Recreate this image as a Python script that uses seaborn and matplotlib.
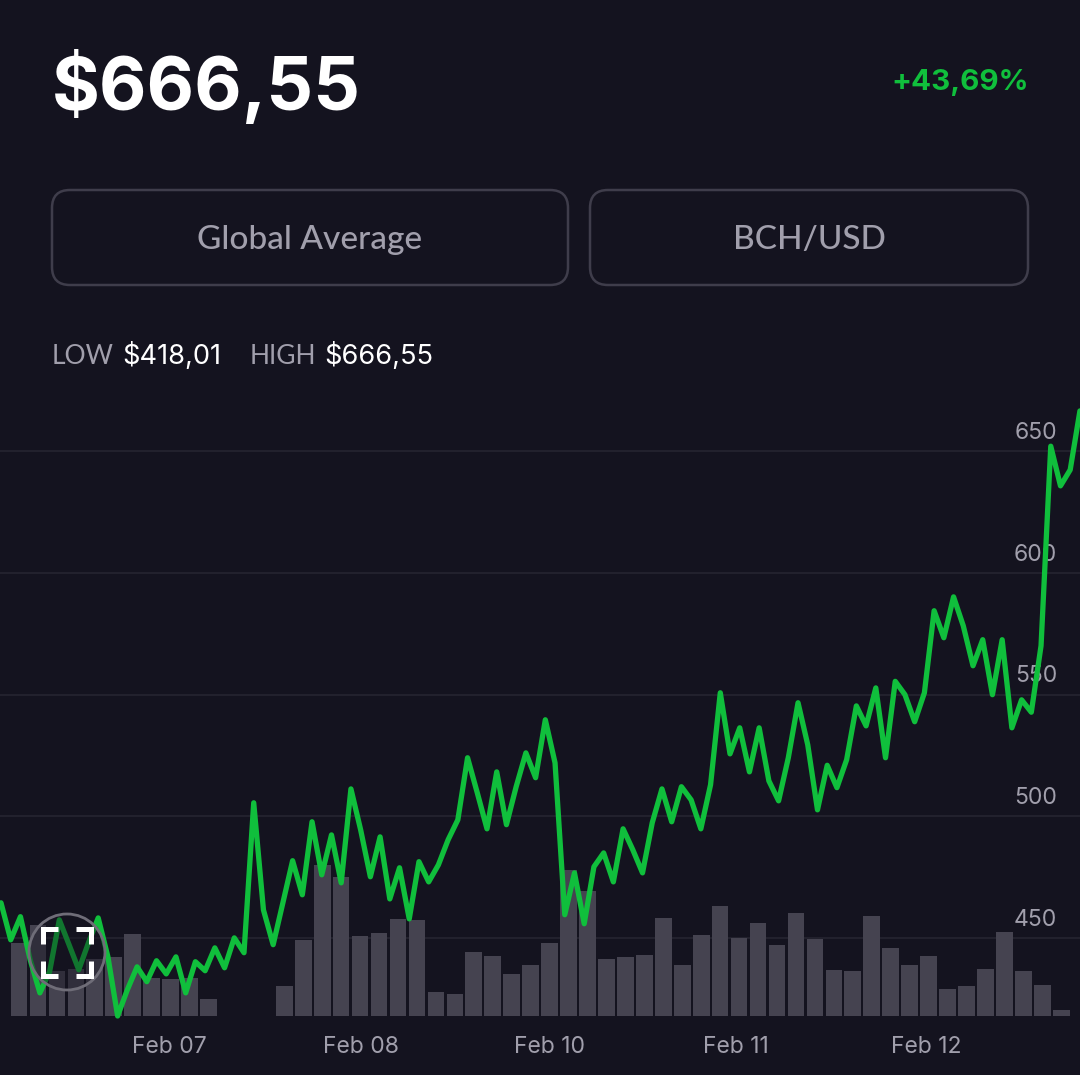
import matplotlib
matplotlib.use("Agg")
import numpy as np
import matplotlib.pyplot as plt
import seaborn as sns
from matplotlib.patches import FancyBboxPatch, Circle
from matplotlib.transforms import ScaledTranslation

# ---- data ----
price = [464.5, 449.3, 458.8, 441.1, 427.5, 436.2, 457.5, 447.3, 437.0, 448.1, 458.3, 442.3,
         418.0, 428.8, 438.2, 432.1, 440.7, 435.3, 442.3, 427.5, 440.3, 436.6, 446.0, 437.8,
         450.1, 444.0, 505.6, 461.6, 447.3, 464.5, 481.8, 467.8, 497.8, 476.0, 492.4, 472.7,
         511.3, 494.5, 475.2, 491.6, 466.1, 478.9, 457.9, 481.4, 473.1, 480.1, 490.4, 498.6,
         524.1, 509.7, 494.9, 518.3, 496.6, 512.2, 526.1, 515.9, 539.7, 522.0, 459.6, 476.8,
         455.9, 479.3, 485.0, 473.1, 494.9, 486.3, 476.8, 497.4, 511.3, 497.8, 512.2, 506.8,
         494.9, 513.0, 550.8, 525.7, 536.4, 518.3, 536.4, 514.6, 506.4, 524.1, 546.7, 529.4,
         502.7, 521.0, 511.8, 523.3, 545.4, 537.2, 552.8, 524.1, 555.5, 550.0, 538.9, 550.8,
         584.5, 573.4, 590.2, 578.3, 561.9, 572.6, 550.0, 572.6, 536.4, 547.9, 542.8, 570.1,
         652.1, 635.8, 642.4, 666.6]
volume = [72.7, 91, 45, 47, 57, 58.7, 82, 37.7, 36.7, 37.7, 16.7, 0, 0, 0, 30, 76, 151, 139.3,
          79.7, 82.7, 96.7, 95.7, 24, 22.3, 63.7, 60.3, 41.7, 50.7, 72.7, 145.7, 124.7, 57.3,
          58.7, 61, 97.7, 50.7, 81.3, 109.8, 78.4, 93.1, 71.1, 103, 77.2, 46.1, 44.8, 99.6,
          68.1, 50.9, 59.9, 26.7, 29.7, 47.4, 84.5, 44.8, 31, 5.6]
price_ticks = [450, 500, 550, 600, 650]
date_labels = ["Feb 07", "Feb 08", "Feb 10", "Feb 11", "Feb 12"]
date_positions = [17.37, 37.0, 56.42, 75.56, 95.2]

BG, BAR, GREEN, GRID = "#14131f", "#454350", "#10bf3c", "#262430"
GREY, EDGE = "#a19fac", "#3f3d4b"
LABEL_FONT = ["Lato", "DejaVu Sans"]
NUM_FONT = ["Inter", "DejaVu Sans"]

W, H = 1080, 1075
sns.set_theme(style="dark", rc={"figure.facecolor": BG, "axes.facecolor": BG})
plt.rcParams["font.family"] = NUM_FONT
fig = plt.figure(figsize=(W / 100, H / 100), dpi=100, facecolor=BG)

# plot area in pixels of the canvas
top_px, bot_px = 400, 1016
rect = [0, 1 - bot_px / H, 1, (bot_px - top_px) / H]
xlim = (-1 / 9.72, 1079 / 9.72)
ylim = (418.0, 418.0 + (bot_px - top_px) * 0.41084)
vol_lim = (0, bot_px - top_px)

ax_grid = fig.add_axes(rect, zorder=0)
ax_vol = fig.add_axes(rect, zorder=1)
ax_line = fig.add_axes(rect, zorder=3)
ax_top = fig.add_axes([0, 0, 1, 1], zorder=4)

# grid, price labels and date labels
ax_grid.set_xlim(xlim)
ax_grid.set_ylim(ylim)
ax_grid.set_yticks(price_ticks)
ax_grid.set_xticks(date_positions)
ax_grid.set_xticklabels(date_labels)
ax_grid.grid(axis="y", color=GRID, lw=1.2)
ax_grid.grid(axis="x", visible=False)
ax_grid.yaxis.tick_right()
ax_grid.tick_params(axis="y", length=0, pad=-16.5, labelsize=16.5, labelcolor=GREY)
ax_grid.tick_params(axis="x", length=0, pad=14.5, labelsize=16.5, labelcolor=GREY)
for lab in ax_grid.get_yticklabels():
    lab.set_ha("right")
    lab.set_transform(lab.get_transform() + ScaledTranslation(0, 21 / 100, fig.dpi_scale_trans))
sns.despine(ax=ax_grid, left=True, bottom=True, right=True, top=True)

# volume bars
bar_pos = 1.852 + 1.9496 * np.arange(len(volume))
sns.barplot(x=bar_pos, y=volume, native_scale=True, width=0.88, color=BAR, saturation=1,
            errorbar=None, linewidth=0, edgecolor="none", ax=ax_vol)
ax_vol.set_xlim(xlim)
ax_vol.set_ylim(vol_lim)
ax_vol.axis("off")

# price line
sns.lineplot(x=np.arange(len(price)), y=price, color=GREEN, lw=3.8, ax=ax_line, errorbar=None)
ax_line.set_xlim(xlim)
ax_line.set_ylim(ylim)
ax_line.axis("off")
for ln in ax_line.lines:
    ln.set_clip_on(False)
    ln.set_solid_joinstyle("round")

# overlay in pixel coordinates
ax_top.set_xlim(0, W)
ax_top.set_ylim(H, 0)
ax_top.axis("off")
ax_top.patch.set_alpha(0)

ax_top.text(52, 87, "$666,55", color="white", fontsize=52.8, fontweight="bold", va="center", ha="left")
ax_top.text(1029, 83, "+43,69%", color=GREEN, fontsize=21.3, fontweight="bold", va="center", ha="right")
for (x0, x1, label) in [(52, 568, "Global Average"), (590, 1028, "BCH/USD")]:
    ax_top.add_patch(FancyBboxPatch((x0 + 18, 190 + 18), x1 - x0 - 36, 95 - 36,
                                    boxstyle="round,pad=18,rounding_size=18",
                                    fc="none", ec=EDGE, lw=1.8))
    ax_top.text((x0 + x1) / 2, 240, label, color=GREY, fontsize=24, fontweight="medium",
                family=LABEL_FONT, va="center", ha="center")
for x, s, c, fam, fs in [(52, "LOW", GREY, LABEL_FONT, 19), (122, "$418,01", "white", NUM_FONT, 19.6),
                         (250, "HIGH", GREY, LABEL_FONT, 19), (324.5, "$666,55", "white", NUM_FONT, 19.6)]:
    ax_top.text(x, 356, s, color=c, fontsize=fs, family=fam, va="center", ha="left")

# focus icon
ax_top.add_patch(Circle((67, 952), 38, fc=BG, ec="none", alpha=0.42))
ax_top.add_patch(Circle((67, 952), 38, fc="none", ec="#6f6d78", lw=2))
ix0, ix1, iy0, iy1, arm = 43, 91, 929, 976, 15
for cx, cy, dx, dy in [(ix0, iy0, 1, 1), (ix1, iy0, -1, 1), (ix0, iy1, 1, -1), (ix1, iy1, -1, -1)]:
    ax_top.plot([cx + dx * arm, cx, cx], [cy, cy, cy + dy * arm], color="white", lw=3.6,
                solid_joinstyle="miter", solid_capstyle="butt")

fig.savefig("out.png", dpi=100, facecolor=BG)
